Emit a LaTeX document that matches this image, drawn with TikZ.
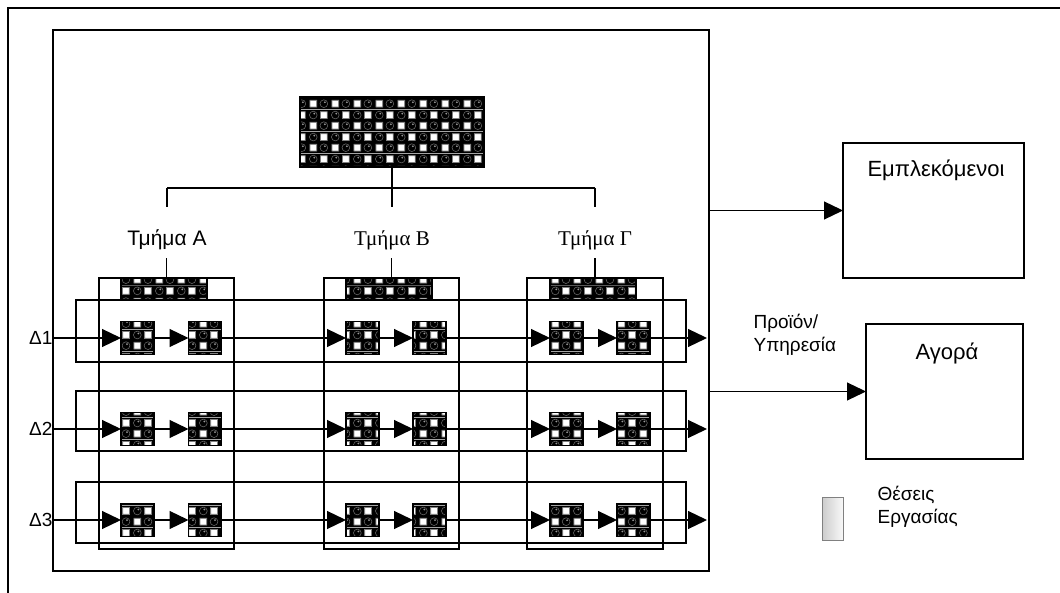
\documentclass[tikz,border=0pt]{standalone}
\usepackage{fontspec}
\setmainfont{Liberation Sans}
\newfontfamily\serifgr{Liberation Serif}
\usetikzlibrary{arrows.meta,patterns}

\pgfdeclarepatterninherentlycolored{spheres}{\pgfpointorigin}{\pgfpoint{22pt}{22pt}}{\pgfpoint{22pt}{22pt}}{%
 \pgfsetfillcolor{black}%
 \pgfpathrectangle{\pgfpointorigin}{\pgfpoint{22pt}{22pt}}%
 \pgfusepath{fill}%
 \pgfsetfillcolor{white}%
 \pgfsetstrokecolor{gray}%
 \pgfsetlinewidth{0.8pt}%
 \pgfpathrectangle{\pgfpoint{2pt}{2pt}}{\pgfpoint{7pt}{7pt}}%
 \pgfpathrectangle{\pgfpoint{13pt}{13pt}}{\pgfpoint{7pt}{7pt}}%
 \pgfusepath{fill,stroke}%
 \pgfsetstrokecolor{black!60}%
 \pgfsetlinewidth{0.6pt}%
 \pgfpathcircle{\pgfpoint{16.5pt}{5.5pt}}{4pt}%
 \pgfpathcircle{\pgfpoint{5.5pt}{16.5pt}}{4pt}%
 \pgfusepath{stroke}%
 \pgfsetfillcolor{gray!80}%
 \pgfpathcircle{\pgfpoint{17.5pt}{7pt}}{1pt}%
 \pgfpathcircle{\pgfpoint{6.5pt}{18pt}}{1pt}%
 \pgfusepath{fill}%
}

\begin{document}
\begin{tikzpicture}[x=1pt,y=-1pt,line width=1.2pt,
  box/.style={draw, inner sep=0pt, outer sep=0pt},
  pat/.style={draw, pattern=spheres, inner sep=0pt, outer sep=0pt},
  sq/.style={pat, minimum width=33pt, minimum height=33pt},
  flow/.style={-{Triangle[length=19pt,width=18pt]}},
  sanslbl/.style={font=\fontsize{21}{25}\selectfont},
  seriflbl/.style={font=\serifgr\fontsize{21}{25}\selectfont},
  small/.style={font=\fontsize{19}{23}\selectfont},
  big/.style={font=\fontsize{22}{26}\selectfont}]
\useasboundingbox (0,0) rectangle (1060,593);

% outer frame
\coordinate (fTR) at (1060,8);
\coordinate (fC) at (8,8);
\coordinate (fBL) at (8,593);
\draw (fTR) -- (fC) -- (fBL);

% inner box
\node[box, minimum width=656pt, minimum height=541pt] (inner) at (381,300.5) {};

% top unit
\node[pat, minimum width=184pt, minimum height=70pt] (top) at (392,132) {};
\coordinate (bar) at (392,188);
\node[sanslbl] (lA) at (167,240) {Τμήμα A};
\node[seriflbl] (lB) at (392,240) {Τμήμα Β};
\node[seriflbl] (lC) at (595,240) {Τμήμα Γ};
\draw (top.south) -- (bar);
\draw (lA |- bar) -- (lC |- bar);
\foreach \n in {lA,lB,lC} \draw (\n |- bar) -- ++(0,19);

% columns
\node[box, minimum width=135pt, minimum height=271pt] (cA) at (166.5,413.5) {};
\node[box, minimum width=135pt, minimum height=271pt] (cB) at (391.5,413.5) {};
\node[box, minimum width=136pt, minimum height=271pt] (cC) at (595,413.5) {};
\foreach \c in {cA,cB,cC} \draw (\c.north) -- ++(0,-20);

% rows
\node[box, minimum width=610pt, minimum height=62pt] (r1) at (381,331) {};
\node[box, minimum width=610pt, minimum height=60pt] (r2) at (381,421) {};
\node[box, minimum width=610pt, minimum height=61pt] (r3) at (381,512.5) {};

% column headers
\node[pat, minimum width=86pt, minimum height=22pt] (hA) at (164,289) {};
\node[pat, minimum width=86pt, minimum height=22pt] (hB) at (389,289) {};
\node[pat, minimum width=86pt, minimum height=22pt] (hC) at (593,289) {};

% flows
\foreach \r/\y in {1/338,2/429,3/520} {
  \node[small, anchor=east, inner sep=0pt] (d\r) at (53,\y) {Δ\r};
  \foreach \i/\x in {1/137.5,2/205,3/362.5,4/429.5,5/566.5,6/633.5}
    \node[sq] (s\r\i) at (\x,\y) {};
  \coordinate (e\r) at (707,\y);
  \draw[flow] (d\r.east) -- (s\r1.west);
  \foreach \i [evaluate=\i as \j using int(\i+1)] in {1,...,5}
    \draw[flow] (s\r\i.east) -- (s\r\j.west);
  \draw[flow] (s\r6.east) -- (e\r);
}

% Emplekomenoi
\node[box, minimum width=181pt, minimum height=135pt] (emp) at (933.5,210.5) {};
\node[big] (empT) at (936,170) {Εμπλεκόμενοι};
\draw[flow] (inner.east |- emp.west) -- (emp.west);

% Agora
\node[box, minimum width=157pt, minimum height=135pt] (ag) at (944.5,391.5) {};
\node[big] (agT) at (947,353) {Αγορά};
\draw[flow] (inner.east |- ag.west) -- (ag.west);
\node[small, anchor=north west, align=left, inner sep=0pt] (prod) at (753,314) {Προϊόν/\\Υπηρεσία};

% legend
\node[draw=gray, line width=0.8pt, left color=gray!40, right color=gray!5, minimum width=21pt, minimum height=43pt, inner sep=0pt] (leg) at (832.5,518.5) {};
\node[small, anchor=north west, align=left, inner sep=0pt] (legT) at (877,486) {Θέσεις\\Εργασίας};
\end{tikzpicture}
\end{document}
